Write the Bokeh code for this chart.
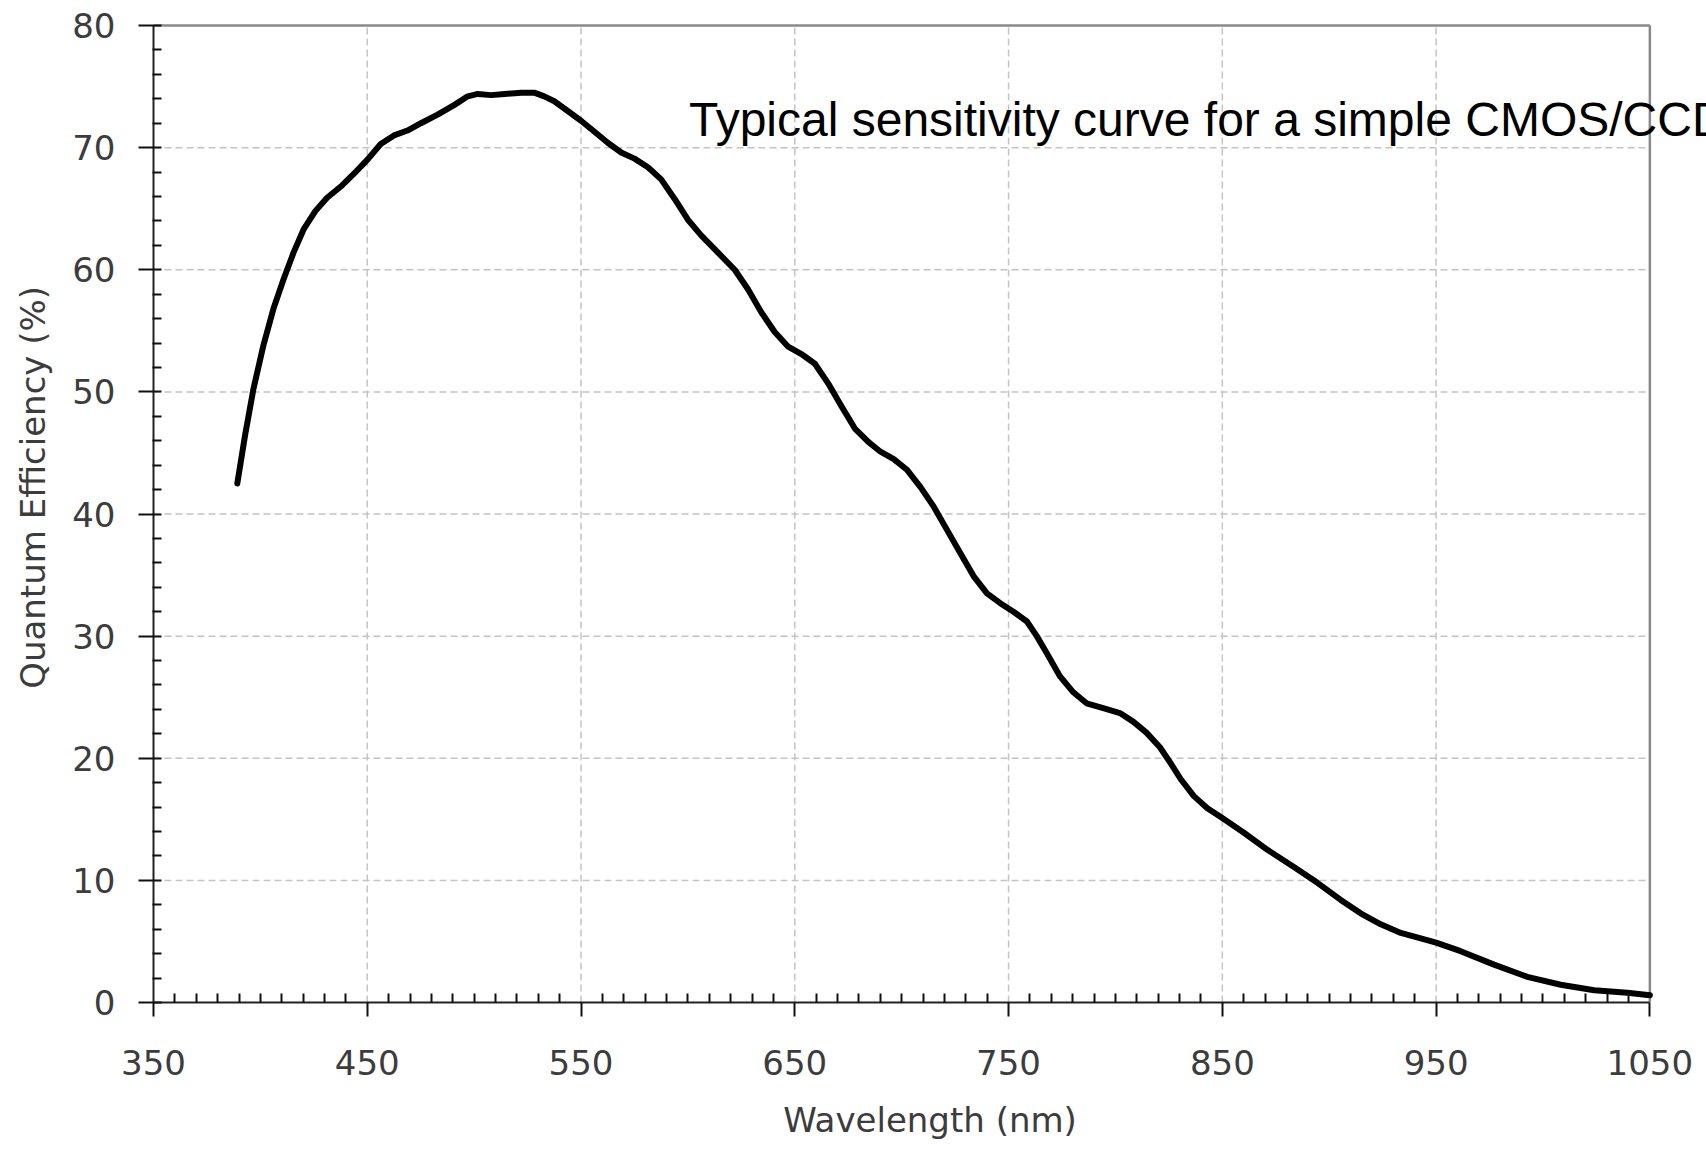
from bokeh.plotting import figure
from bokeh.models import Range1d, FixedTicker, Label
from bokeh.embed import file_html
from bokeh.resources import INLINE

# Wavelength (nm) and quantum efficiency (%)
wavelength = [389.2, 392.8, 396.7, 401.4, 406.1, 410.8, 415.5, 420.2, 425.7, 431.2,
              438.2, 444.5, 450, 456.3, 462.5, 468.8, 475.1, 482.9, 490.8, 497.0,
              501.7, 508.0, 514.3, 522.1, 528.1, 532.8, 537.5, 543.8, 550, 556.3,
              562.5, 568.8, 575, 581.3, 587.5, 593.8, 600, 606.3, 614.1, 621.9,
              628.1, 634.4, 640.6, 646.9, 653.1, 659.4, 665.6, 671.9, 678.1, 684.4,
              690.1, 696.3, 702.6, 708.8, 715.0, 721.2, 727.4, 733.7, 739.9, 746.1,
              752.3, 758.6, 763.2, 767.9, 774.1, 780.3, 786.5, 794.3, 802.1, 808.3,
              814.5, 820.8, 825.8, 830.5, 836.7, 843.0, 850, 860.1, 871.1, 883.5,
              894.5, 905.4, 914.7, 924.1, 933.5, 950, 961.5, 977.1, 992.7, 1008.3,
              1024, 1039.5, 1050]
qe = [42.5, 46.4, 50.2, 53.8, 56.8, 59.2, 61.4, 63.3, 64.8, 65.9,
      66.9, 68.0, 69.0, 70.3, 71.0, 71.4, 72.0, 72.7, 73.5, 74.2,
      74.4, 74.3, 74.4, 74.5, 74.5, 74.2, 73.8, 73.0, 72.2, 71.3,
      70.4, 69.6, 69.1, 68.4, 67.4, 65.8, 64.1, 62.8, 61.4, 60.0,
      58.4, 56.5, 54.9, 53.7, 53.1, 52.3, 50.7, 48.8, 47.0, 45.9,
      45.1, 44.5, 43.6, 42.2, 40.6, 38.7, 36.8, 34.9, 33.5, 32.7,
      32.0, 31.2, 30.0, 28.6, 26.7, 25.4, 24.5, 24.1, 23.7, 23.0,
      22.1, 20.9, 19.6, 18.3, 16.9, 15.9, 15.1, 13.9, 12.5, 11.1,
      9.8, 8.4, 7.3, 6.4, 5.7, 4.9, 4.2, 3.1, 2.1, 1.45,
      1.0, 0.8, 0.6]

x_ticks = [350, 450, 550, 650, 750, 850, 950, 1050]
y_ticks = [0, 10, 20, 30, 40, 50, 60, 70, 80]
x_label = "Wavelength (nm)"
y_label = "Quantum Efficiency (%)"
note = "Typical sensitivity curve for a simple CMOS/CCD"

x_minor = [v for v in range(350, 1051, 10) if v not in x_ticks]
y_minor = [v for v in range(0, 81, 2) if v not in y_ticks]

# the drawing area runs past the chart box (right and top) so that the note
# can run past the box edge, as in the original
x_view_end = 1076.5
y_view_end = 80.82

p = figure(width=1706, height=1149, output_backend="svg", toolbar_location=None,
           x_range=Range1d(350, x_view_end), y_range=Range1d(0, y_view_end),
           min_border_left=153, min_border_right=0, min_border_top=15,
           min_border_bottom=147)
p.background_fill_color = "white"
p.border_fill_color = "white"
p.outline_line_color = None
p.xgrid.visible = False
p.ygrid.visible = False

grid_color = "#c4c4c4"
border_color = "#8a8a8a"
x0, x1 = x_ticks[0], x_ticks[-1]
y0, y1 = y_ticks[0], y_ticks[-1]

# dashed grid lines inside the chart box
p.multi_line(xs=[[x0, x1] for _ in y_ticks[1:-1]], ys=[[v, v] for v in y_ticks[1:-1]],
             line_color=grid_color, line_width=1.5, line_dash="7 4")
p.multi_line(xs=[[v, v] for v in x_ticks[1:-1]], ys=[[y0, y1] for _ in x_ticks[1:-1]],
             line_color=grid_color, line_width=1.5, line_dash="7 4")
# chart box: top edge and right edge (solid)
p.multi_line(xs=[[x0, x1], [x1, x1]], ys=[[y1, y1], [y0, y1]],
             line_color=border_color, line_width=2.5)

p.line(wavelength, qe, line_color="black", line_width=6, line_join="round",
       line_cap="round")

font = "DejaVu Sans"
label_color = "#3c3c3c"

xa = p.xaxis[0]
xa.bounds = (x0, x1)
xa.ticker = FixedTicker(ticks=x_ticks, minor_ticks=x_minor)
xa.axis_line_color = "#222222"
xa.axis_line_width = 2
xa.major_tick_line_color = "#111111"
xa.major_tick_line_width = 2
xa.major_tick_out = 14
xa.major_tick_in = 0
xa.minor_tick_line_color = "#111111"
xa.minor_tick_line_width = 2
xa.minor_tick_in = 9
xa.minor_tick_out = 0
xa.major_label_text_font = font
xa.major_label_text_font_size = "34px"
xa.major_label_text_color = label_color
xa.major_label_standoff = 33
xa.axis_label = x_label
xa.axis_label_text_font = font
xa.axis_label_text_font_size = "34px"
xa.axis_label_text_font_style = "normal"
xa.axis_label_text_color = label_color
xa.axis_label_standoff = 22

ya = p.yaxis[0]
ya.bounds = (y0, y1)
ya.ticker = FixedTicker(ticks=y_ticks, minor_ticks=y_minor)
ya.axis_line_color = "#222222"
ya.axis_line_width = 2
ya.major_tick_line_color = "#111111"
ya.major_tick_line_width = 2
ya.major_tick_out = 15
ya.major_tick_in = 8
ya.minor_tick_line_color = "#111111"
ya.minor_tick_line_width = 2
ya.minor_tick_in = 8
ya.minor_tick_out = 1
ya.major_label_text_font = font
ya.major_label_text_font_size = "34px"
ya.major_label_text_color = label_color
ya.major_label_standoff = 23
# leading no-break spaces lift the (rotated) title a little above the centre, as in the original
ya.axis_label = "\u00a0" * 4 + y_label
ya.axis_label_text_font = font
ya.axis_label_text_font_size = "34px"
ya.axis_label_text_font_style = "normal"
ya.axis_label_text_color = label_color
ya.axis_label_standoff = 16

p.add_layout(Label(x=600.5, y=72.3, text=note, text_font="Liberation Sans",
                   text_font_size="48px", text_color="black",
                   text_baseline="alphabetic", text_align="left"))

open("out.html", "w").write(file_html(p, INLINE))
